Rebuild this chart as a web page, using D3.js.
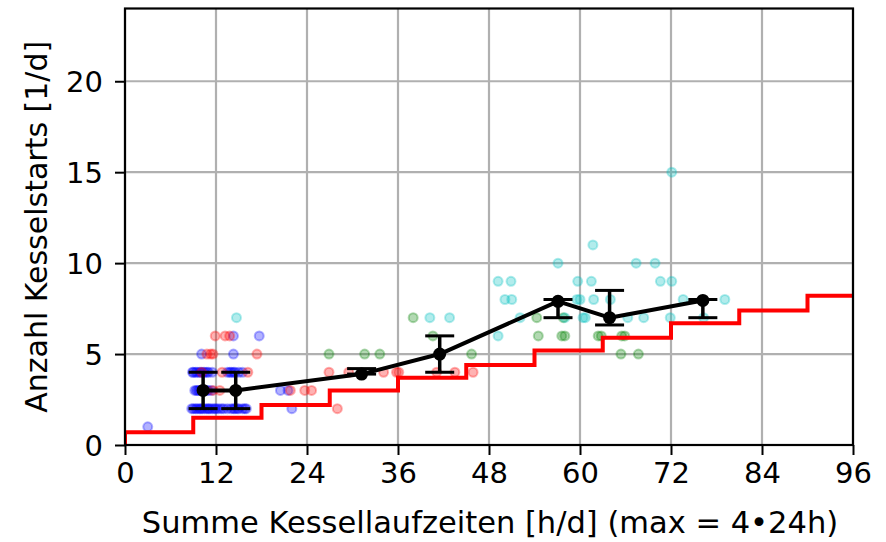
<!DOCTYPE html>
<html>
<head>
<meta charset="utf-8">
<script src="https://cdn.jsdelivr.net/npm/d3@7"></script>
<style>
body { margin: 0; background: #fff; }
svg text { font-family: "DejaVu Sans", sans-serif; fill: #000; }
.grid line { stroke: #b0b0b0; stroke-width: 2.2; }
</style>
</head>
<body>
<svg id="chart" width="886" height="542"></svg>
<script>
// scatter: single days, coloured by group (many days overlap at the same spot)
var bluePts = [[3,1],
  [8.8,2],[9,2],[9.3,2],[9.5,2],[9.8,2],[10,2],[10.2,2],[10.5,2],[10.8,2],[11,2],[11.2,2],[11.5,2],[11.8,2],
  [12,2],[12.3,2],[12.7,2],[13,2],[13.5,2],[14,2],[14.3,2],[14.5,2],[14.8,2],[15,2],[15.5,2],[15.8,2],[16,2],[22,2],
  [9.2,3],[9.4,3],[9.6,3],[9.8,3],[10,3],[10.3,3],[10.5,3],[10.8,3],[11,3],[11.4,3],[14.5,3],[20.5,3],[21.5,3],
  [8.9,4],[9,4],[9.3,4],[9.5,4],[9.8,4],[10,4],[10.3,4],[10.5,4],[10.8,4],[11,4],[11.5,4],
  [13.5,4],[13.8,4],[14,4],[14.3,4],[14.5,4],[15,4],[15.5,4],
  [10.1,5],[14.3,5],[14.3,6],[17.7,6]];
var redPts = [[28,2],
  [11.6,3],[12.5,3],[21.8,3],[23.7,3],[24.6,3],
  [10.1,4],[12.8,4],[16.2,4],[26.9,4],[29.5,4],[34.1,4],[35.8,4],[36.1,4],[41.1,4],[43.5,4],[45.9,4],
  [10.8,5],[11.3,5],[11.6,5],[17.4,5],
  [11.9,6],[13.2,6],[13.8,6]];
var greenPts = [[26.9,5],[31.6,5],[33.6,5],[45.7,5],[65.4,5],[67.7,5],
  [40.6,6],[54.5,6],[57.6,6],[58,6],[62.4,6],[62.8,6],[65.5,6],[65.9,6],
  [38,7],[54.3,7],[57.8,7]];
var cyanPts = [[14.7,7],[40.2,7],[42.8,7],[49.2,6],
  [52.1,7],[58,7],[60.4,7],[60.7,7],[66.3,7],[68.4,7],[71.9,7],[76.3,7],
  [50.1,8],[51,8],[59.6,8],[60,8],[61.8,8],[64,8],[73.6,8],[79.1,8],
  [49.2,9],[50.9,9],[59.7,9],[61.5,9],[70.6,9],[72.1,9],
  [57.1,10],[67.4,10],[69.9,10],[61.7,11],[72.1,15]];

// binned mean with error bars
var meanX  = [10.3, 14.6, 31.2, 41.5, 57.1, 63.9, 76.2];
var meanY  = [3, 3, 3.9, 5, 7.9, 7, 7.95];
var meanLo = [2, 2, 3.9, 4, 7, 6.6, 7];
var meanHi = [4, 4, 4.2, 6, 8, 8.5, 8];

// red reference step line
var stepEdges  = [0, 9, 18, 27, 36, 45, 54, 63, 72, 81, 90, 96];
var stepLevels = [0.7, 1.5, 2.2, 3.0, 3.7, 4.4, 5.2, 5.9, 6.7, 7.4, 8.2];

var xTicks = [0, 12, 24, 36, 48, 60, 72, 84, 96];
var yTicks = [0, 5, 10, 15, 20];

var svg = d3.select("#chart");
var pL = 125, pR = 853, pT = 8.5, pB = 445;
var x = d3.scaleLinear().domain([0, 96]).range([pL, pR]);
var y = d3.scaleLinear().domain([0, 24]).range([pB, pT]);

svg.append("defs").append("clipPath").attr("id", "clip")
  .append("rect").attr("x", pL).attr("y", pT).attr("width", pR - pL).attr("height", pB - pT);

// grid
var grid = svg.append("g").attr("class", "grid");
grid.selectAll("line.gx").data(xTicks).enter().append("line")
  .attr("x1", d => x(d)).attr("x2", d => x(d)).attr("y1", pT).attr("y2", pB);
grid.selectAll("line.gy").data(yTicks).enter().append("line")
  .attr("y1", d => y(d)).attr("y2", d => y(d)).attr("x1", pL).attr("x2", pR);

var plot = svg.append("g").attr("clip-path", "url(#clip)");

function scatter(pts, col) {
  plot.append("g").selectAll("circle").data(pts).enter().append("circle")
    .attr("cx", d => x(d[0])).attr("cy", d => y(d[1])).attr("r", 4.5)
    .attr("fill", col).attr("fill-opacity", 0.3)
    .attr("stroke", col).attr("stroke-opacity", 0.3).attr("stroke-width", 2);
}
scatter(bluePts, "#0000ff");
scatter(redPts, "#ff0000");
scatter(greenPts, "#008000");
scatter(cyanPts, "#00bfbf");

// step line
var stepPts = [[0, 0]];
stepLevels.forEach(function(v, i) { stepPts.push([stepEdges[i], v]); });
stepPts.push([stepEdges[stepEdges.length - 1], stepLevels[stepLevels.length - 1]]);
plot.append("path")
  .attr("d", d3.line().x(d => x(d[0])).y(d => y(d[1])).curve(d3.curveStepAfter)(stepPts))
  .attr("fill", "none").attr("stroke", "#ff0000").attr("stroke-width", 4);

// error bars
var mean = meanX.map((v, i) => ({x: v, y: meanY[i], lo: meanLo[i], hi: meanHi[i]}));
var eb = plot.append("g").attr("stroke", "#000");
eb.selectAll("line.v").data(mean).enter().append("line")
  .attr("x1", d => x(d.x)).attr("x2", d => x(d.x)).attr("y1", d => y(d.lo)).attr("y2", d => y(d.hi))
  .attr("stroke-width", 3.5);
["lo", "hi"].forEach(function(k) {
  eb.selectAll("line." + k).data(mean).enter().append("line")
    .attr("x1", d => x(d.x) - 14.5).attr("x2", d => x(d.x) + 14.5)
    .attr("y1", d => y(d[k])).attr("y2", d => y(d[k]))
    .attr("stroke-width", 3);
});
plot.append("path")
  .attr("d", d3.line().x(d => x(d.x)).y(d => y(d.y))(mean))
  .attr("fill", "none").attr("stroke", "#000").attr("stroke-width", 4).attr("stroke-linejoin", "round");
plot.append("g").selectAll("circle").data(mean).enter().append("circle")
  .attr("cx", d => x(d.x)).attr("cy", d => y(d.y)).attr("r", 6.5).attr("fill", "#000");

// axes
var xAxis = svg.append("g").attr("transform", "translate(0," + pB + ")")
  .call(d3.axisBottom(x).tickValues(xTicks).tickSize(10).tickPadding(7).tickSizeOuter(0));
var yAxis = svg.append("g").attr("transform", "translate(" + pL + ",0)")
  .call(d3.axisLeft(y).tickValues(yTicks).tickSize(10).tickPadding(12).tickSizeOuter(0));
[xAxis, yAxis].forEach(function(a) {
  a.select(".domain").remove();
  a.selectAll(".tick line").attr("stroke", "#000").attr("stroke-width", 2);
  a.selectAll(".tick text").style("font-size", "29px").attr("font-family", null);
});
yAxis.selectAll(".tick text").attr("dy", "0.36em");

// frame
svg.append("rect").attr("x", pL).attr("y", pT).attr("width", pR - pL).attr("height", pB - pT)
  .attr("fill", "none").attr("stroke", "#000").attr("stroke-width", 2.2);

svg.append("text").attr("transform", "translate(47," + ((pT + pB) / 2) + ") rotate(-90)")
  .attr("text-anchor", "middle").style("font-size", "30px").text("Anzahl Kesselstarts [1/d]");
svg.append("text").attr("x", 490).attr("y", 533)
  .attr("text-anchor", "middle").style("font-size", "30.5px").text("Summe Kessellaufzeiten [h/d] (max = 4\u202224h)");
</script>
</body>
</html>
